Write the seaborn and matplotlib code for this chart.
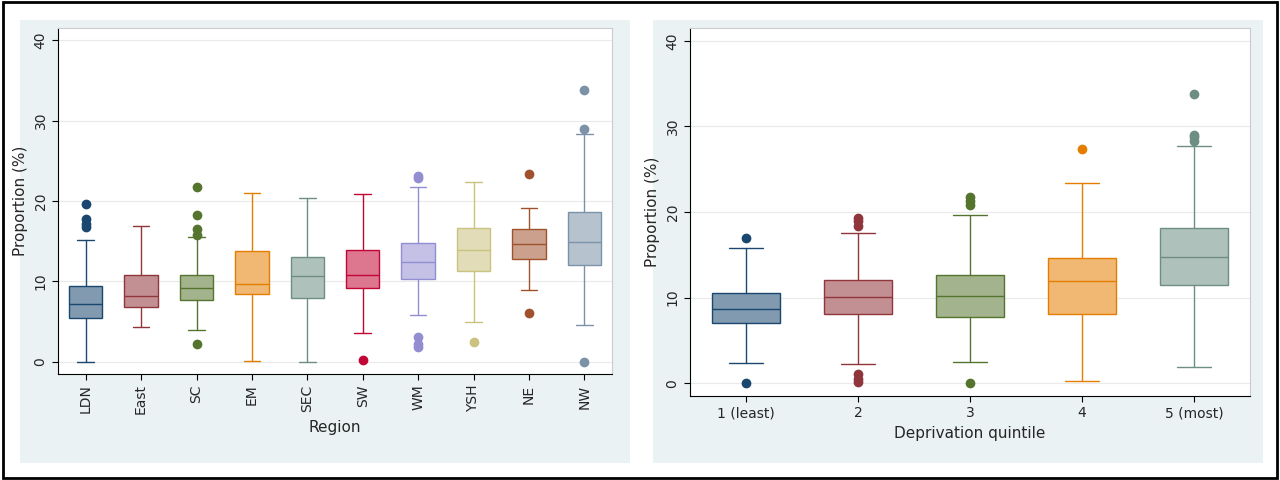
import numpy as np
import matplotlib.pyplot as plt
import seaborn as sns
from matplotlib.patches import Rectangle
from matplotlib.colors import to_rgb

sns.set_style("white")
plt.rcParams['font.family'] = ['DejaVu Sans']

# left panel: region
regions = ["LDN", "East", "SC", "EM", "SEC", "SW", "WM", "YSH", "NE", "NW"]
reg_lo = [0.0, 4.3, 4.0, 0.1, 0.0, 3.6, 5.8, 5.0, 8.9, 4.6]
reg_q1 = [5.5, 6.8, 7.7, 8.4, 7.9, 9.2, 10.3, 11.3, 12.8, 12.0]
reg_med = [7.2, 8.2, 9.2, 9.7, 10.7, 10.8, 12.4, 13.9, 14.6, 14.9]
reg_q3 = [9.4, 10.8, 10.8, 13.8, 13.0, 13.9, 14.8, 16.7, 16.5, 18.6]
reg_hi = [15.1, 16.9, 15.5, 21.0, 20.4, 20.9, 21.8, 22.4, 19.1, 28.3]
reg_fliers = [[16.8, 17.2, 17.8, 19.6], [], [2.2, 15.8, 16.5, 18.3, 21.7], [], [],
              [0.3], [1.8, 2.2, 3.1, 22.8, 23.1], [2.5], [6.1, 23.4], [0.0, 29.0, 33.8]]
reg_colors = ["#1a476f", "#90353b", "#55752f", "#e37e00", "#6e8e84",
              "#c10534", "#938dd2", "#cac27e", "#a0522d", "#7b92a8"]

# right panel: deprivation quintile
quints = ["1 (least)", "2", "3", "4", "5 (most)"]
q_lo = [2.4, 2.2, 2.5, 0.3, 1.9]
q_q1 = [7.0, 8.1, 7.7, 8.1, 11.5]
q_med = [8.7, 10.1, 10.2, 11.9, 14.8]
q_q3 = [10.5, 12.0, 12.6, 14.6, 18.1]
q_hi = [15.8, 17.6, 19.7, 23.4, 27.7]
q_fliers = [[0.0, 17.0], [0.1, 0.5, 1.1, 18.4, 18.9, 19.3], [0.0, 20.8, 21.3, 21.8],
            [27.4], [28.3, 28.8, 29.0, 33.8]]
q_colors = ["#1a476f", "#90353b", "#55752f", "#e37e00", "#6e8e84"]


def lighten(c, f=0.45):
    r = np.array(to_rgb(c))
    return tuple(r + (1 - r) * f)


def draw(ax, labels, lo, q1, med, q3, hi, fliers, colors, width):
    stats = [dict(label=l, whislo=a, q1=b, med=m, q3=c, whishi=d, fliers=f)
             for l, a, b, m, c, d, f in zip(labels, lo, q1, med, q3, hi, fliers)]
    bp = ax.bxp(stats, widths=width, patch_artist=True, showcaps=True)
    for i, col in enumerate(colors):
        bp['boxes'][i].set(facecolor=lighten(col), edgecolor=col, linewidth=1)
        bp['medians'][i].set(color=col, linewidth=1)
        for w in bp['whiskers'][2 * i:2 * i + 2] + bp['caps'][2 * i:2 * i + 2]:
            w.set(color=col, linewidth=1)
        bp['fliers'][i].set(marker='o', markerfacecolor=col, markeredgecolor=col,
                            markersize=6)
    ax.set_facecolor('white')
    ax.set_ylim(-1.5, 41.5)
    ax.set_yticks([0, 10, 20, 30, 40])
    ax.set_yticklabels(["0", "10", "20", "30", "40"], rotation=90, va='center')
    ax.grid(axis='y', color='#eaeaea', linewidth=0.8)
    ax.set_axisbelow(True)
    ax.set_ylabel("Proportion (%)", fontsize=11)
    for s in ax.spines.values():
        s.set_color('#cccccc')
    ax.spines['left'].set_color('black')
    ax.spines['bottom'].set_color('black')
    ax.tick_params(axis='both', length=4, color='black', left=True, bottom=True,
                   labelsize=10)


fig = plt.figure(figsize=(12.8, 4.8), dpi=100)
fig.patches.append(Rectangle((0.002, 0.004), 0.996, 0.992, transform=fig.transFigure,
                             fill=False, edgecolor='black', linewidth=2, zorder=-1))
fig.patches.append(Rectangle((20 / 1280, 17 / 480), 610 / 1280, 443 / 480,
                             transform=fig.transFigure, facecolor='#eaf2f3',
                             edgecolor='none', zorder=-1))
fig.patches.append(Rectangle((653 / 1280, 17 / 480), 610 / 1280, 443 / 480,
                             transform=fig.transFigure, facecolor='#eaf2f3',
                             edgecolor='none', zorder=-1))

ax1 = fig.add_axes([58 / 1280, 1 - 374 / 480, 554 / 1280, 346 / 480])
draw(ax1, regions, reg_lo, reg_q1, reg_med, reg_q3, reg_hi, reg_fliers, reg_colors, 0.6)
ax1.set_xticklabels(regions, rotation=90)
ax1.set_xlabel("Region", fontsize=11)

ax2 = fig.add_axes([690 / 1280, 1 - 396 / 480, 560 / 1280, 368 / 480])
draw(ax2, quints, q_lo, q_q1, q_med, q_q3, q_hi, q_fliers, q_colors, 0.6)
ax2.set_xlabel("Deprivation quintile", fontsize=11)

fig.savefig("out.png", dpi=100)
